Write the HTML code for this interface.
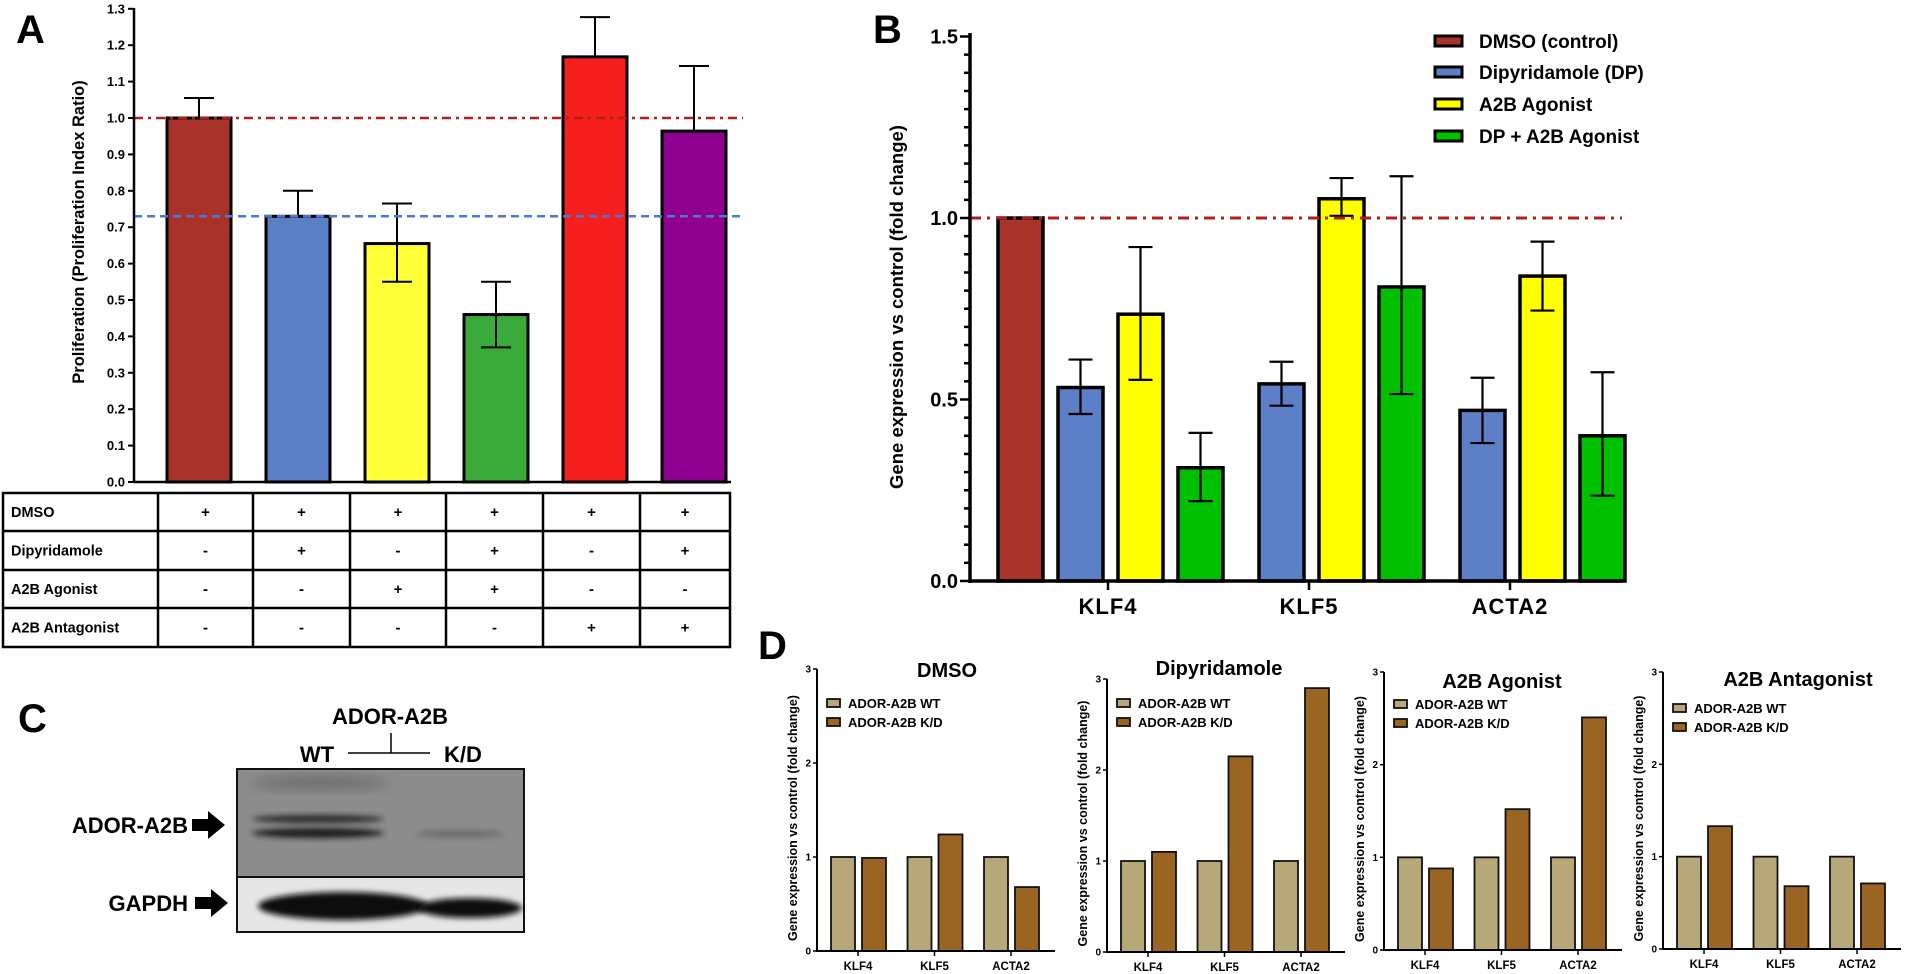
<!DOCTYPE html>
<html><head><meta charset="utf-8">
<style>
html,body{margin:0;padding:0;background:#fff;}
svg{display:block;font-family:"Liberation Sans",Arial,sans-serif;}
.b{font-weight:bold;}
</style></head>
<body>
<svg id="fig" width="1905" height="974" viewBox="0 0 1905 974" xmlns="http://www.w3.org/2000/svg">
<defs>
<filter id="blur3" x="-20%" y="-50%" width="140%" height="200%"><feGaussianBlur stdDeviation="3"/></filter>
<filter id="blur6" x="-20%" y="-50%" width="140%" height="200%"><feGaussianBlur stdDeviation="6"/></filter>
</defs>
<g id="A"></g>
<g id="B"></g>
<g id="C">
  <text x="18" y="732" font-size="40" class="b">C</text>
  <text x="390" y="724" font-size="22" class="b" text-anchor="middle">ADOR-A2B</text>
  <text x="317" y="762" font-size="22" class="b" text-anchor="middle">WT</text>
  <text x="463" y="762" font-size="22" class="b" text-anchor="middle">K/D</text>
  <path d="M348 753 H430 M391 733 V753" stroke="#000" stroke-width="1.5" fill="none"/>
  <text x="188" y="833" font-size="22" class="b" text-anchor="end">ADOR-A2B</text>
  <path d="M192 819 H208 V811 L225 825 L208 839 V831 H192 Z" fill="#000"/>
  <text x="188" y="911" font-size="22" class="b" text-anchor="end">GAPDH</text>
  <path d="M195 897 H211 V889 L228 903 L211 917 V909 H195 Z" fill="#000"/>
  <g>
    <rect x="237" y="769" width="287" height="108" fill="#8c8c8c" stroke="#111" stroke-width="2"/>
    <ellipse cx="320" cy="783" rx="70" ry="6" fill="#6a6a6a" filter="url(#blur6)"/>
    <ellipse cx="318" cy="819" rx="66" ry="4" fill="#2a2a2a" filter="url(#blur3)"/>
    <ellipse cx="318" cy="833" rx="66" ry="5" fill="#1a1a1a" filter="url(#blur3)"/>
    <ellipse cx="460" cy="834" rx="45" ry="4" fill="#6e6e6e" filter="url(#blur3)"/>
  </g>
  <g>
    <rect x="237" y="877" width="287" height="55" fill="#e6e6e6" stroke="#111" stroke-width="2"/>
    <ellipse cx="343" cy="906" rx="85" ry="14" fill="#111" filter="url(#blur3)"/>
    <ellipse cx="470" cy="908" rx="52" ry="10" fill="#111" filter="url(#blur3)"/>
  </g>
</g>
<g id="D">
  <text x="758" y="659" font-size="40" class="b">D</text>
</g>
</svg>
<script>
// ---------- Panel A data ----------
const aCategories = ["DMSO","Dipyridamole","A2B Agonist","DP + A2B Agonist","DMSO + A2B Antagonist","DP + A2B Antagonist"];
const aValues = [1.0, 0.73, 0.655, 0.46, 1.168, 0.964];
const aErrHigh = [1.055, 0.80, 0.765, 0.55, 1.277, 1.143];
const aErrLow = [1.0, 0.73, 0.55, 0.37, 1.168, 0.964];
const aTicks = ["0.0","0.1","0.2","0.3","0.4","0.5","0.6","0.7","0.8","0.9","1.0","1.1","1.2","1.3"];
const aRefLines = [1.0, 0.73];
const tableRows = ["DMSO","Dipyridamole","A2B Agonist","A2B Antagonist"];
const tableMarks = [
  ["+","+","+","+","+","+"],
  ["-","+","-","+","-","+"],
  ["-","-","+","+","-","-"],
  ["-","-","-","-","+","+"]
];
// ---------- Panel B data ----------
const bGenes = ["KLF4","KLF5","ACTA2"];
const bSeries = ["DMSO (control)","Dipyridamole (DP)","A2B Agonist","DP + A2B Agonist"];
const bDMSO = [1.0, null, null];
const bDP = [0.533, 0.543, 0.47];
const bAgonist = [0.735, 1.053, 0.84];
const bDPAgonist = [0.312, 0.81, 0.40];
const bDPerr = [[0.46,0.61],[0.483,0.604],[0.38,0.56]];
const bAgonistErr = [[0.554,0.92],[1.006,1.11],[0.745,0.935]];
const bDPAgonistErr = [[0.22,0.408],[0.515,1.115],[0.235,0.575]];
const bTicks = ["0.0","0.5","1.0","1.5"];
// ---------- Panel D data ----------
const dTitles = ["DMSO","Dipyridamole","A2B Agonist","A2B Antagonist"];
const dGenes = ["KLF4","KLF5","ACTA2"];
const dWT = [[1,1,1],[1,1,1],[1,1,1],[1,1,1]];
const dKD = [[0.99,1.24,0.68],[1.1,2.15,2.9],[0.88,1.52,2.51],[1.33,0.68,0.71]];
const dTicks = ["0","1","2","3"];

const NS = "http://www.w3.org/2000/svg";
function mk(tag, attrs, parent, txt){
  const e = document.createElementNS(NS, tag);
  for (const k in attrs) e.setAttribute(k, attrs[k]);
  if (txt !== undefined) e.textContent = txt;
  parent.appendChild(e);
  return e;
}
let el;
// ================= PANEL A =================
const gA = document.getElementById("A");
const yA = v => 482 - v*364;
const axA = 134;
el = mk("text",{x:16,y:43,"font-size":40,"class":"b"},gA,"A");


aTicks.forEach((t,i)=>{
  const v = parseFloat(t);
  el = mk("line",{x1:axA-6,x2:axA,y1:yA(v),y2:yA(v),stroke:"#000","stroke-width":2},gA);
  
  
  el = mk("text",{x:axA-9,y:yA(v)+4.5,"font-size":13,"class":"b","text-anchor":"end"},gA,t);
  
  
});
el = mk("text",{transform:"translate(84,232) rotate(-90)","font-size":16.5,"class":"b","text-anchor":"middle"},gA,"Proliferation (Proliferation Index  Ratio)");


const aColors = ["#a8322a","#5c7ec4","#ffff3a","#3aab3a","#f61f1f","#8e008e"];
aValues.forEach((v,i)=>{
  const x = 167 + i*99, w = 64, cx = x + w/2;
  el = mk("rect",{x:x,y:yA(v),width:w,height:yA(0)-yA(v),fill:aColors[i],stroke:"#000","stroke-width":3},gA);
  
  
  el = mk("path",{d:`M${cx} ${yA(aErrLow[i])} V${yA(aErrHigh[i])} M${cx-15} ${yA(aErrHigh[i])} H${cx+15}`+(aErrLow[i]<v?` M${cx-15} ${yA(aErrLow[i])} H${cx+15}`:""),stroke:"#000","stroke-width":2,fill:"none"},gA);
  
  
});
el = mk("line",{x1:axA,x2:743,y1:yA(aRefLines[0]),y2:yA(aRefLines[0]),stroke:"#b51c1c","stroke-width":2.5,"stroke-dasharray":"9 5 3 5"},gA);


el = mk("line",{x1:axA,x2:743,y1:yA(aRefLines[1]),y2:yA(aRefLines[1]),stroke:"#4a78d6","stroke-width":2.5,"stroke-dasharray":"8 5"},gA);


el = mk("line",{x1:axA,x2:axA,y1:8,y2:483,stroke:"#000","stroke-width":2.5},gA);


el = mk("line",{x1:axA,x2:731,y1:482,y2:482,stroke:"#000","stroke-width":2.5},gA);


// table
const colX = [3,158,253,350,446,543,640,730];
const rowY = [493,531,570,608,647];
el = mk("rect",{x:3,y:493,width:727,height:154,fill:"none",stroke:"#000","stroke-width":2.5},gA);


colX.slice(1,-1).forEach(x=>{ mk("line",{x1:x,x2:x,y1:493,y2:647,stroke:"#000","stroke-width":2.5},gA); });
rowY.slice(1,-1).forEach(y=>{ mk("line",{x1:3,x2:730,y1:y,y2:y,stroke:"#000","stroke-width":2.5},gA); });
tableRows.forEach((r,ri)=>{
  const cy = (rowY[ri]+rowY[ri+1])/2 + 5;
  el = mk("text",{x:11,y:cy,"font-size":14.5,"class":"b"},gA,r);
  
  
  tableMarks[ri].forEach((m,ci)=>{
    el = mk("text",{x:(colX[ci+1]+colX[ci+2])/2,y:cy,"font-size":15,"class":"b","text-anchor":"middle"},gA,m);
    
    
  });
});
// ================= PANEL B =================
const gB = document.getElementById("B");
const yB = v => 581 - v*363;
const axB = 970;
el = mk("text",{x:873,y:43,"font-size":40,"class":"b"},gB,"B");


for (let k=0;k<=30;k++){
  const v = k*0.05, major = (k%10===0);
  el = mk("line",{x1:axB-(major?10:6),x2:axB,y1:yB(v),y2:yB(v),stroke:"#000","stroke-width":2.5},gB);
  
  
}
bTicks.forEach(t=>{
  el = mk("text",{x:axB-12,y:yB(parseFloat(t))+7,"font-size":20,"class":"b","text-anchor":"end"},gB,t);
  
  
});
el = mk("text",{transform:"translate(903,307) rotate(-90)","font-size":18.5,"class":"b","text-anchor":"middle"},gB,"Gene expression vs control  (fold change)");


const bColors = ["#a8332a","#5c7fc7","#ffff00","#00c000"];
const bData = [bDMSO,bDP,bAgonist,bDPAgonist];
const bErr = [null,bDPerr,bAgonistErr,bDPAgonistErr];
bGenes.forEach((g,gi)=>{
  bData.forEach((ser,si)=>{
    const v = ser[gi];
    if (v===null) return;
    const x = 998 + gi*201 + si*60, w = 45, cx = x+w/2;
    el = mk("rect",{x:x,y:yB(v),width:w,height:yB(0)-yB(v),fill:bColors[si],stroke:"#000","stroke-width":3.5},gB);
    
    
    if (bErr[si]){
      const [lo,hi] = bErr[si][gi];
      el = mk("path",{d:`M${cx} ${yB(lo)} V${yB(hi)} M${cx-12} ${yB(hi)} H${cx+12} M${cx-12} ${yB(lo)} H${cx+12}`,stroke:"#000","stroke-width":2.2,fill:"none"},gB);
      
      
    }
  });
  const cx = 998 + gi*201 + 110;
  el = mk("line",{x1:cx,x2:cx,y1:581,y2:590,stroke:"#000","stroke-width":2.5},gB);
  
  
  el = mk("text",{x:cx,y:614,"font-size":22,"class":"b","text-anchor":"middle","letter-spacing":"1"},gB,g);
  
  
});
el = mk("line",{x1:axB,x2:1622,y1:yB(1),y2:yB(1),stroke:"#b51c1c","stroke-width":3,"stroke-dasharray":"11 6 3 6"},gB);


el = mk("line",{x1:axB,x2:axB,y1:33,y2:583,stroke:"#000","stroke-width":3.5},gB);


el = mk("line",{x1:axB,x2:1622,y1:581,y2:581,stroke:"#000","stroke-width":3.5},gB);


const bLegY = [41,72,104,136];
bSeries.forEach((s,i)=>{
  el = mk("rect",{x:1435,y:bLegY[i]-5,width:27,height:10,fill:bColors[i],stroke:"#000","stroke-width":3},gB);
  
  
  el = mk("text",{x:1479,y:bLegY[i]+7,"font-size":19,"class":"b"},gB,s);
  
  
});
// ================= PANEL D =================
const gD = document.getElementById("D");
const dAx = [817,1107,1384,1663];
const dTop = [669,679,672,672];
const dBot = [951,952,950,949];
const dTitlePos = [[947,677],[1219,675],[1502,688],[1798,686]];
const dLegY = [703,703,704,708];
dTitles.forEach((t,p)=>{
  const ax = dAx[p], y0 = dBot[p], y3 = dTop[p];
  const yD = v => y0 - v*(y0-y3)/3;
  const g = mk("g",{},gD);
  
  
  el = mk("text",{x:dTitlePos[p][0],y:dTitlePos[p][1],"font-size":20,"class":"b","text-anchor":"middle"},g,t);
  
  
  dTicks.forEach(tk=>{
    const v = parseFloat(tk);
    el = mk("line",{x1:ax-4,x2:ax,y1:yD(v),y2:yD(v),stroke:"#000","stroke-width":1.5},g);
    
    
    el = mk("text",{x:ax-6,y:yD(v)+3.5,"font-size":10,"class":"b","text-anchor":"end"},g,tk);
    
    
  });
  el = mk("text",{transform:`translate(${ax-20},${(y0+y3)/2+8}) rotate(-90)`,"font-size":12.5,"class":"b","text-anchor":"middle"},g,"Gene expression vs control  (fold change)");
  
  
  dGenes.forEach((gn,ci)=>{
    const xw = ax + 14 + ci*76.5, xk = ax + 45 + ci*76.5;
    el = mk("rect",{x:xw,y:yD(dWT[p][ci]),width:24,height:yD(0)-yD(dWT[p][ci]),fill:"#b6a878",stroke:"#111","stroke-width":1.8},g);
    
    
    el = mk("rect",{x:xk,y:yD(dKD[p][ci]),width:24,height:yD(0)-yD(dKD[p][ci]),fill:"#9a6422",stroke:"#111","stroke-width":1.8},g);
    
    
    const cx = ax + 41 + ci*76.5;
    el = mk("line",{x1:cx,x2:cx,y1:y0,y2:y0+5,stroke:"#000","stroke-width":1.5},g);
    
    
    el = mk("text",{x:cx,y:y0+19,"font-size":11.5,"class":"b","text-anchor":"middle"},g,gn);
    
    
  });
  el = mk("line",{x1:ax,x2:ax,y1:y3,y2:y0+1,stroke:"#000","stroke-width":2},g);
  
  
  el = mk("line",{x1:ax,x2:ax+238,y1:y0,y2:y0,stroke:"#000","stroke-width":2},g);
  
  
  ["ADOR-A2B WT","ADOR-A2B K/D"].forEach((lab,li)=>{
    const ly = dLegY[p] + li*19;
    el = mk("rect",{x:ax+10,y:ly-4,width:13,height:8,fill:li?"#9a6422":"#b6a878",stroke:"#111","stroke-width":1.8},g);
    
    
    el = mk("text",{x:ax+31,y:ly+5,"font-size":13,"class":"b"},g,lab);
    
    
  });
});
</script>
</body></html>
